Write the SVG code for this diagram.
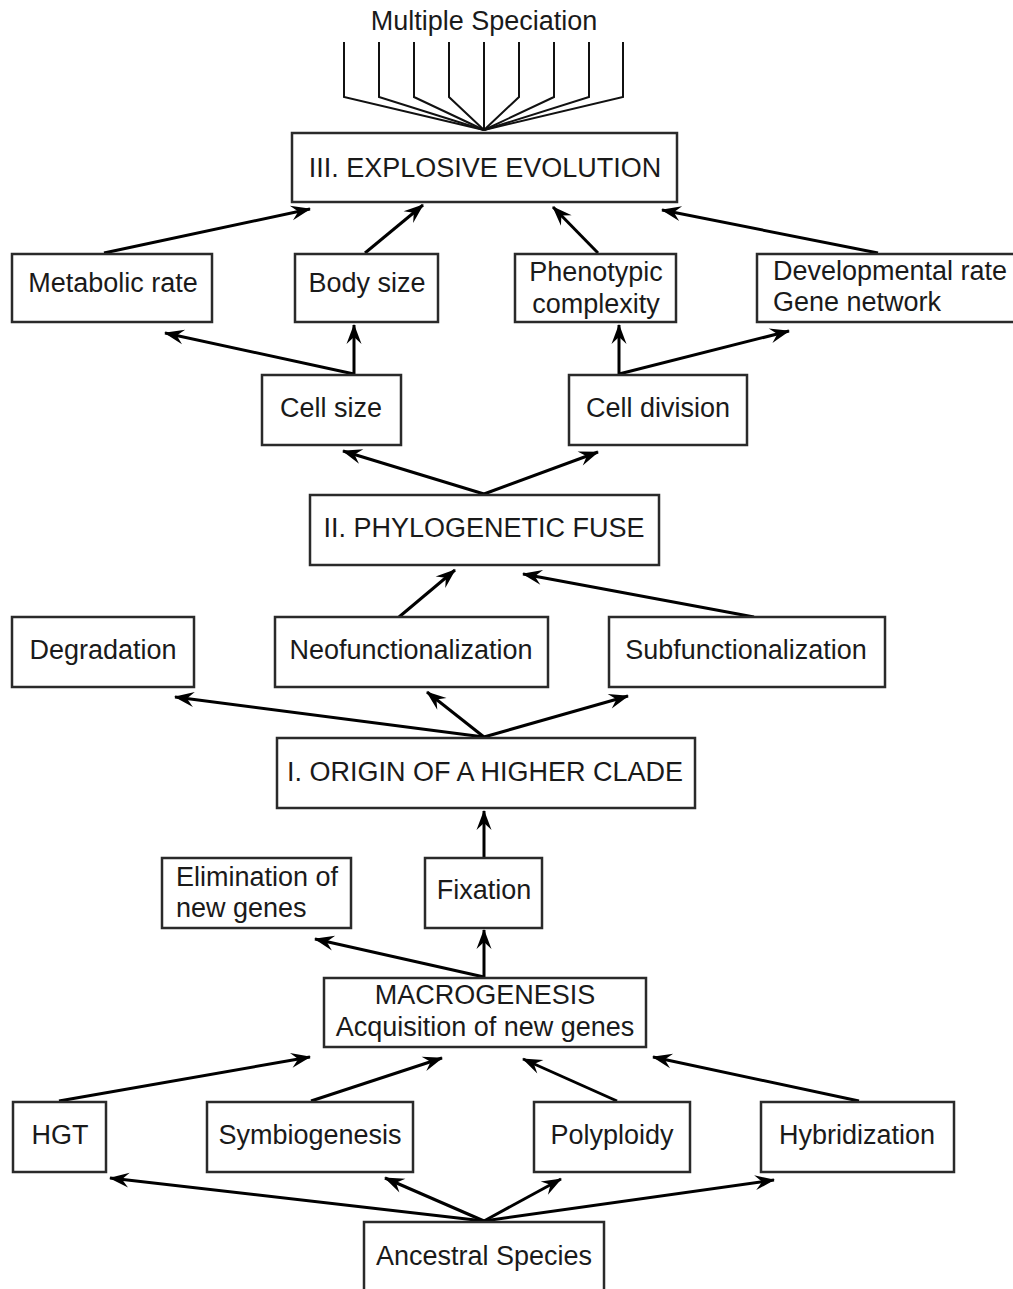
<svg xmlns="http://www.w3.org/2000/svg" width="1013" height="1289" viewBox="0 0 1013 1289">
<style>
  .box { fill: #ffffff; stroke: #2a2a2a; stroke-width: 2.5; }
  .t { font-family: "Liberation Sans", Arial, sans-serif; font-size: 27px; fill: #1a1a1a; }
  .c { text-anchor: middle; }
  .arr { fill: none; stroke: #000; stroke-width: 3; marker-end: url(#ah); }
  .fan { fill: none; stroke: #111; stroke-width: 2; }
</style>
<defs>
  <marker id="ah" markerUnits="userSpaceOnUse" markerWidth="24" markerHeight="18" viewBox="-20 -9 24 18" refX="0" refY="0" orient="auto">
    <path d="M1,0 L-19,-7.5 L-12,0 L-19,7.5 Z" fill="#000"/>
  </marker>
</defs>
<rect width="1013" height="1289" fill="#ffffff"/>

<g id="connectors">
  <!-- fan to Multiple Speciation -->
  <polyline class="fan" points="344,42 344,97 484,130"/>
  <polyline class="fan" points="379,42 379,97 484,130"/>
  <polyline class="fan" points="414,42 414,97 484,130"/>
  <polyline class="fan" points="449,42 449,97 484,130"/>
  <polyline class="fan" points="484,42 484,130"/>
  <polyline class="fan" points="519,42 519,97 484,130"/>
  <polyline class="fan" points="554,42 554,97 484,130"/>
  <polyline class="fan" points="589,42 589,97 484,130"/>
  <polyline class="fan" points="623,42 623,97 484,130"/>
  <!-- level III inputs -->
  <line class="arr" x1="104" y1="253" x2="310" y2="209"/>
  <line class="arr" x1="365" y1="253" x2="423" y2="205"/>
  <line class="arr" x1="598" y1="253" x2="553" y2="207"/>
  <line class="arr" x1="878" y1="253" x2="662" y2="210"/>
  <!-- cell size / cell division -->
  <line class="arr" x1="354" y1="374" x2="165" y2="333"/>
  <line class="arr" x1="354" y1="374" x2="354" y2="325"/>
  <line class="arr" x1="619" y1="374" x2="619" y2="325"/>
  <line class="arr" x1="619" y1="374" x2="789" y2="331"/>
  <!-- phylogenetic fuse outputs -->
  <line class="arr" x1="484" y1="494" x2="343" y2="451"/>
  <line class="arr" x1="484" y1="494" x2="598" y2="452"/>
  <!-- into phylogenetic fuse -->
  <line class="arr" x1="399" y1="617" x2="455" y2="570"/>
  <line class="arr" x1="754" y1="617" x2="523" y2="574"/>
  <!-- from origin -->
  <line class="arr" x1="484" y1="737" x2="175" y2="697"/>
  <line class="arr" x1="484" y1="737" x2="427" y2="692"/>
  <line class="arr" x1="484" y1="737" x2="628" y2="696"/>
  <!-- fixation to origin -->
  <line class="arr" x1="484" y1="857" x2="484" y2="811"/>
  <!-- from macrogenesis -->
  <line class="arr" x1="484" y1="977" x2="484" y2="930"/>
  <line class="arr" x1="484" y1="977" x2="315" y2="939"/>
  <!-- into macrogenesis -->
  <line class="arr" x1="59" y1="1101" x2="310" y2="1057"/>
  <line class="arr" x1="311" y1="1101" x2="442" y2="1058"/>
  <line class="arr" x1="617" y1="1101" x2="523" y2="1059"/>
  <line class="arr" x1="859" y1="1101" x2="653" y2="1057"/>
  <!-- from ancestral species -->
  <line class="arr" x1="484" y1="1221" x2="110" y2="1178"/>
  <line class="arr" x1="484" y1="1221" x2="385" y2="1178"/>
  <line class="arr" x1="484" y1="1221" x2="561" y2="1179"/>
  <line class="arr" x1="484" y1="1221" x2="774" y2="1180"/>
</g>

<g id="multiple-speciation">
  <text class="t c" x="484" y="30">Multiple Speciation</text>
</g>

<g id="explosive-evolution">
  <rect class="box" x="292" y="133" width="385" height="69"/>
  <text class="t c" x="485" y="177">III. EXPLOSIVE EVOLUTION</text>
</g>

<g id="metabolic-rate">
  <rect class="box" x="12" y="254" width="200" height="68"/>
  <text class="t c" x="113" y="292">Metabolic rate</text>
</g>

<g id="body-size">
  <rect class="box" x="295" y="254" width="143" height="68"/>
  <text class="t c" x="367" y="292">Body size</text>
</g>

<g id="phenotypic-complexity">
  <rect class="box" x="515" y="254" width="161" height="68"/>
  <text class="t c" x="596" y="281">Phenotypic</text>
  <text class="t c" x="596" y="313">complexity</text>
</g>

<g id="developmental-rate">
  <rect class="box" x="757" y="254" width="270" height="68"/>
  <text class="t" x="773" y="280">Developmental rate</text>
  <text class="t" x="773" y="311">Gene network</text>
</g>

<g id="cell-size">
  <rect class="box" x="262" y="375" width="139" height="70"/>
  <text class="t c" x="331" y="417">Cell size</text>
</g>

<g id="cell-division">
  <rect class="box" x="569" y="375" width="178" height="70"/>
  <text class="t c" x="658" y="417">Cell division</text>
</g>

<g id="phylogenetic-fuse">
  <rect class="box" x="310" y="495" width="349" height="70"/>
  <text class="t c" x="484" y="537">II. PHYLOGENETIC FUSE</text>
</g>

<g id="degradation">
  <rect class="box" x="12" y="617" width="182" height="70"/>
  <text class="t c" x="103" y="659">Degradation</text>
</g>

<g id="neofunctionalization">
  <rect class="box" x="275" y="617" width="273" height="70"/>
  <text class="t c" x="411" y="659">Neofunctionalization</text>
</g>

<g id="subfunctionalization">
  <rect class="box" x="609" y="617" width="276" height="70"/>
  <text class="t c" x="746" y="659">Subfunctionalization</text>
</g>

<g id="origin-higher-clade">
  <rect class="box" x="277" y="738" width="418" height="70"/>
  <text class="t c" x="485" y="781">I. ORIGIN OF A HIGHER CLADE</text>
</g>

<g id="elimination">
  <rect class="box" x="162" y="858" width="189" height="70"/>
  <text class="t" x="176" y="886">Elimination of</text>
  <text class="t" x="176" y="917">new genes</text>
</g>

<g id="fixation">
  <rect class="box" x="425" y="858" width="117" height="70"/>
  <text class="t c" x="484" y="899">Fixation</text>
</g>

<g id="macrogenesis">
  <rect class="box" x="324" y="978" width="322" height="69"/>
  <text class="t c" x="485" y="1004">MACROGENESIS</text>
  <text class="t c" x="485" y="1036">Acquisition of new genes</text>
</g>

<g id="hgt">
  <rect class="box" x="13" y="1102" width="93" height="70"/>
  <text class="t c" x="60" y="1144">HGT</text>
</g>

<g id="symbiogenesis">
  <rect class="box" x="207" y="1102" width="206" height="70"/>
  <text class="t c" x="310" y="1144">Symbiogenesis</text>
</g>

<g id="polyploidy">
  <rect class="box" x="534" y="1102" width="156" height="70"/>
  <text class="t c" x="612" y="1144">Polyploidy</text>
</g>

<g id="hybridization">
  <rect class="box" x="761" y="1102" width="193" height="70"/>
  <text class="t c" x="857" y="1144">Hybridization</text>
</g>

<g id="ancestral-species">
  <rect class="box" x="364" y="1222" width="240" height="80"/>
  <text class="t c" x="484" y="1265">Ancestral Species</text>
</g>
</svg>
